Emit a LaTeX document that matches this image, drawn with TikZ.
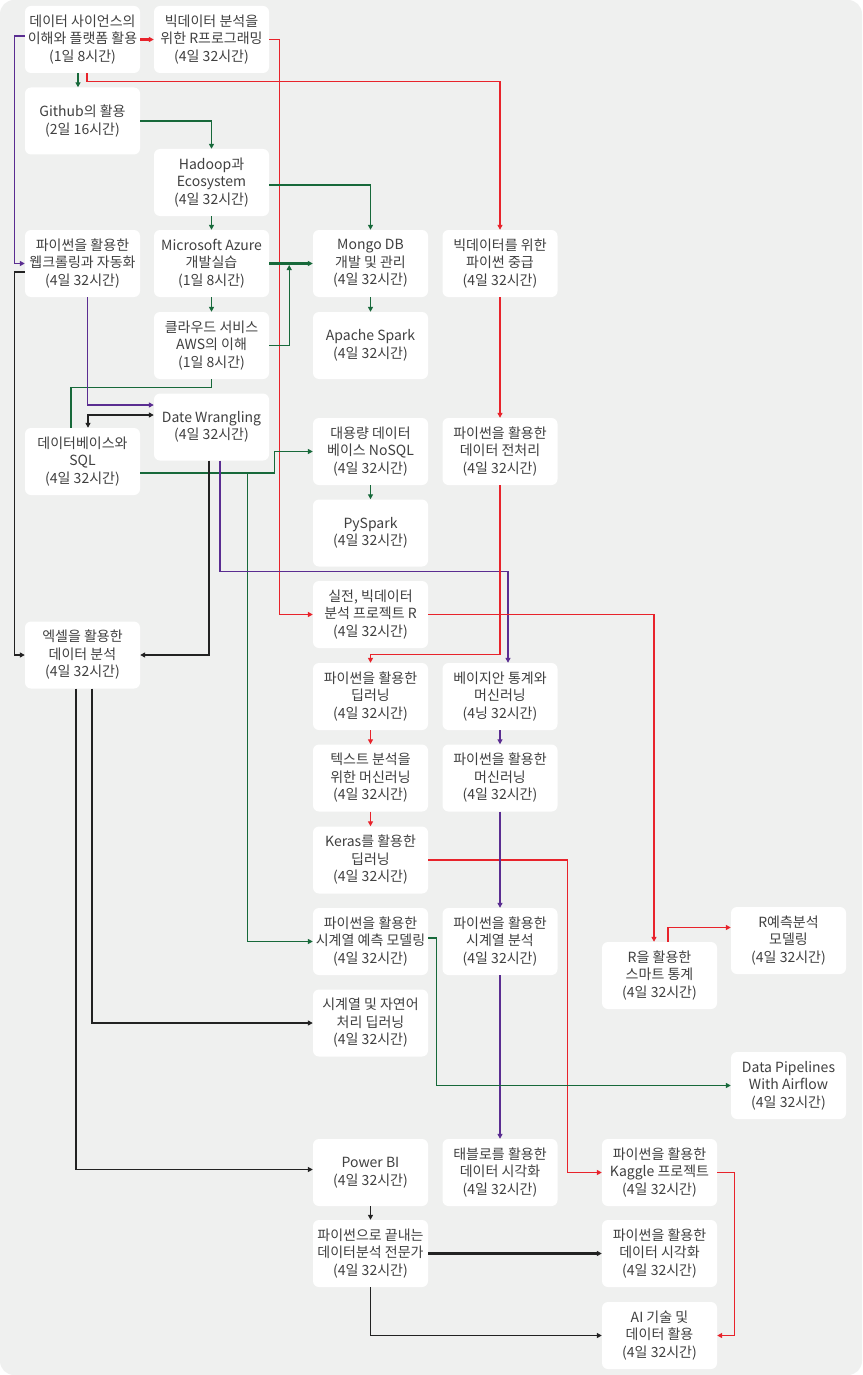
\documentclass[tikz,border=0pt]{standalone}
\usepackage{fontspec}
\setmainfont{Noto Sans CJK KR}
\usepackage{tikz}
\usetikzlibrary{arrows.meta}

\definecolor{bgGray}{HTML}{EFF0EF}
\definecolor{txtGray}{HTML}{404040}
\definecolor{lnGreen}{HTML}{17693A}
\definecolor{lnRed}{HTML}{E8232B}
\definecolor{lnPurple}{HTML}{5A2D91}
\definecolor{lnBlack}{HTML}{222222}

\begin{document}
\begin{tikzpicture}[x=1pt, y=-1pt,
    course/.style={fill=white, rounded corners=6pt, minimum width=115pt, minimum height=67pt, inner sep=0pt, align=center, text=txtGray, font=\fontsize{14}{17.5}\selectfont},
    tip/.style={-{Triangle[length=5pt,width=5pt]}},
    gLine/.style={draw=lnGreen, line width=1.3pt, tip},
    rLine/.style={draw=lnRed, line width=1.3pt, tip},
    pLine/.style={draw=lnPurple, line width=1.3pt, tip},
    kLine/.style={draw=lnBlack, line width=1.3pt, tip},
    heavy/.style={line width=2.2pt}]

            \fill[bgGray, rounded corners=14pt] (0,0) rectangle (862,1375);

            \node[course] (intro) at (82.5,39.5) {데이터 사이언스의\\이해와 플랫폼 활용\\(1일 8시간)};
            \node[course] (rprog) at (211.5,39.5) {빅데이터 분석을\\위한 R프로그래밍\\(4일 32시간)};

            \node[course] (github) at (82.5,121) {Github의 활용\\(2일 16시간)};
            \node[course] (hadoop) at (211.5,182.5) {Hadoop과\\Ecosystem\\(4일 32시간)};

            \node[course] (crawl) at (82.5,263.5) {파이썬을 활용한\\웹크롤링과 자동화\\(4일 32시간)};
            \node[course] (azure) at (211.5,263.5) {Microsoft Azure\\개발실습\\(1일 8시간)};
            \node[course] (mongo) at (370.5,263.5) {Mongo DB\\개발 및 관리\\(4일 32시간)};
            \node[course] (pymid) at (500,263.5) {빅데이터를 위한\\파이썬 중급\\(4일 32시간)};

            \node[course] (aws) at (211.5,345.5) {클라우드 서비스\\AWS의 이해\\(1일 8시간)};
            \node[course] (spark) at (370.5,345.5) {Apache Spark\\(4일 32시간)};

            \node[course] (wrangle) at (211.5,427) {Date Wrangling\\(4일 32시간)};
            \node[course] (sqldb) at (82.5,461.5) {데이터베이스와\\SQL\\(4일 32시간)};
            \node[course] (nosql) at (370.5,451.5) {대용량 데이터\\베이스 NoSQL\\(4일 32시간)};
            \node[course] (prep) at (500,451.5) {파이썬을 활용한\\데이터 전처리\\(4일 32시간)};

            \node[course] (pyspark) at (370.5,533) {PySpark\\(4일 32시간)};
            \node[course] (rproj) at (370.5,614.5) {실전, 빅데이터\\분석 프로젝트 R\\(4일 32시간)};
            \node[course] (excel) at (82.5,655) {엑셀을 활용한\\데이터 분석\\(4일 32시간)};

            \node[course] (deep) at (370.5,696.5) {파이썬을 활용한\\딥러닝\\(4일 32시간)};
            \node[course] (bayes) at (500,696.5) {베이지안 통계와\\머신러닝\\(4닝 32시간)};
            \node[course] (textml) at (370.5,778) {텍스트 분석을\\위한 머신러닝\\(4일 32시간)};
            \node[course] (pyml) at (500,778) {파이썬을 활용한\\머신러닝\\(4일 32시간)};
            \node[course] (keras) at (370.5,860) {Keras를 활용한\\딥러닝\\(4일 32시간)};

            \node[course] (tsfore) at (370.5,941.5) {파이썬을 활용한\\시계열 예측 모델링\\(4일 32시간)};
            \node[course] (tsana) at (500,941.5) {파이썬을 활용한\\시계열 분석\\(4일 32시간)};
            \node[course] (rpred) at (788.5,940.5) {R예측분석\\모델링\\(4일 32시간)};
            \node[course] (rstat) at (659.5,975.5) {R을 활용한\\스마트 통계\\(4일 32시간)};
            \node[course] (tsnlp) at (370.5,1023) {시계열 및 자연어\\처리 딥러닝\\(4일 32시간)};
            \node[course] (airflow) at (788.5,1085.5) {Data Pipelines\\With Airflow\\(4일 32시간)};

            \node[course] (powerbi) at (370.5,1172.5) {Power BI\\(4일 32시간)};
            \node[course] (tableau) at (500,1172.5) {태블로를 활용한\\데이터 시각화\\(4일 32시간)};
            \node[course] (kaggle) at (659.5,1172.5) {파이썬을 활용한\\Kaggle 프로젝트\\(4일 32시간)};
            \node[course] (expert) at (370.5,1253.5) {파이썬으로 끝내는\\데이터분석 전문가\\(4일 32시간)};
            \node[course] (pyviz) at (659.5,1253.5) {파이썬을 활용한\\데이터 시각화\\(4일 32시간)};
            \node[course] (aiuse) at (659.5,1335.5) {AI 기술 및\\데이터 활용\\(4일 32시간)};

            \draw[rLine, heavy] (intro.east) -- (rprog.west);
            \draw[gLine] ([xshift=-4.5pt]intro.south) -- ([xshift=-4.5pt]github.north);
            \draw[rLine] ([xshift=4.5pt]intro.south) -- ++(0,8) -| (pymid.north);
            \draw[rLine] (rprog.east) -- ++(10,0) |- (rproj.west);
            \draw[pLine] ([yshift=3.5pt]intro.west) -- ++(-10,0) |- (crawl.west);

            \draw[gLine] (github.east) -| (hadoop.north);
            \draw[gLine] ([yshift=-2.5pt]hadoop.east) -| (mongo.north);
            \draw[gLine] (hadoop.south) -- (azure.north);
            \draw[gLine, heavy] (azure.east) -- (mongo.west);
            \draw[gLine] (azure.south) -- (aws.north);
            \draw[gLine] (aws.east) -| ([xshift=20pt,yshift=-1.5pt]azure.east);
            \draw[gLine] (mongo.south) -- (spark.north);
            \draw[draw=lnGreen, line width=1.3pt] (aws.south) -- ++(0,8) -| ([xshift=-11.5pt]sqldb.north);

            \draw[pLine] ([xshift=5pt]crawl.south) |- ([yshift=22pt]wrangle.west);
            \draw[kLine, {Triangle[length=5pt,width=5pt]}-{Triangle[length=5pt,width=5pt]}] ([yshift=12pt]wrangle.west) -| ([xshift=5.5pt]sqldb.north);
            \draw[kLine] ([yshift=-8.5pt]crawl.west) -- ++(-10,0) |- (excel.west);

            \draw[gLine] ([yshift=-11.5pt]sqldb.east) -- ++(134,0) |- (nosql.west);
            \draw[gLine] ([yshift=-11.5pt]sqldb.east) -- ++(107,0) |- (tsfore.west);
            \draw[gLine] (nosql.south) -- (pyspark.north);

            \draw[kLine] ([xshift=-2.5pt]wrangle.south) |- (excel.east);
            \draw[pLine] ([xshift=8.5pt]wrangle.south) -- ++(0,111) -| ([xshift=8pt]bayes.north);

            \draw[rLine, heavy] (pymid.south) -- (prep.north);
            \draw[rLine] (prep.south) -- ++(0,169) -| (deep.north);
            \draw[rLine] (rproj.east) -| ([xshift=-5.5pt]rstat.north);
            \draw[rLine] (deep.south) -- (textml.north);
            \draw[rLine] (textml.south) -- (keras.north);
            \draw[rLine] (keras.east) -- ++(139,0) |- (kaggle.west);

            \draw[pLine] (bayes.south) -- (pyml.north);
            \draw[pLine, heavy] (pyml.south) -- (tsana.north);
            \draw[pLine, heavy] (tsana.south) -- (tableau.north);

            \draw[kLine] ([xshift=9.5pt]excel.south) |- (tsnlp.west);
            \draw[kLine] ([xshift=-6.5pt]excel.south) |- ([yshift=3pt]powerbi.west);

            \draw[gLine] ([yshift=3.5pt]tsfore.east) -- ++(8,0) |- (airflow.west);
            \draw[rLine] ([xshift=8.5pt]rstat.north) |- ([yshift=13pt]rpred.west);

            \draw[kLine] (powerbi.south) -- (expert.north);
            \draw[kLine, heavy] (expert.east) -- (pyviz.west);
            \draw[kLine] (expert.south) |- (aiuse.west);
            \draw[rLine] (kaggle.east) -- ++(17,0) |- (aiuse.east);

        \end{tikzpicture}
\end{document}
